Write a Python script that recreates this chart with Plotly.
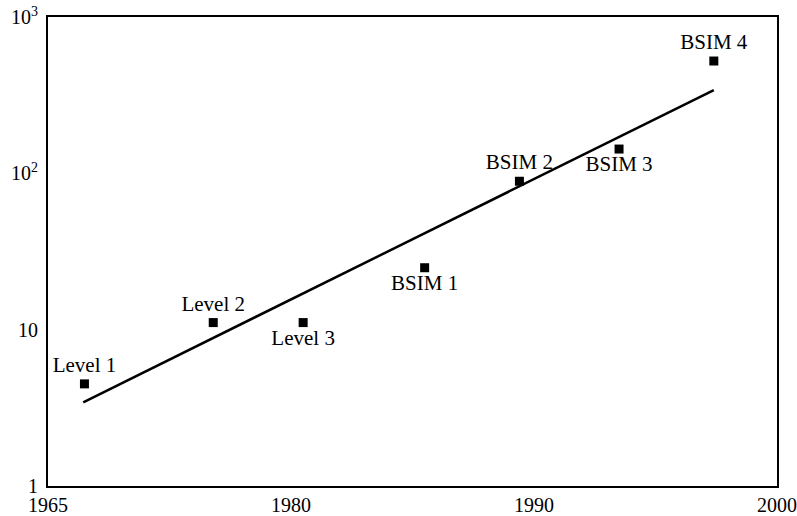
import plotly.graph_objects as go

# Data (x in axis units; axis tick labels as printed on the original figure)
model_names = ["Level 1", "Level 2", "Level 3", "BSIM 1", "BSIM 2", "BSIM 3", "BSIM 4"]
model_years = [1971.5, 1976.8, 1980.5, 1985.5, 1989.4, 1993.5, 1997.4]
model_params = [4.5, 11.1, 11.1, 24.9, 89, 143, 523]
label_pos = ["top center", "top center", "bottom center", "bottom center",
             "top center", "bottom center", "top center"]

trend_years = [1971.45, 1997.4]
trend_params = [3.43, 341]

x_tickvals = [1970, 1980, 1990, 2000]
x_ticktext = ["1965", "1980", "1990", "2000"]
y_tickvals = [1, 10, 100, 1000]
y_ticktext = ["1", "10", "10<sup>2</sup>", "10<sup>3</sup>"]

FONT = "Liberation Serif, Times New Roman, serif"

fig = go.Figure()
fig.add_trace(go.Scatter(
    x=trend_years, y=trend_params, mode="lines",
    line=dict(color="black", width=2.5), showlegend=False, hoverinfo="skip"))
fig.add_trace(go.Scatter(
    x=model_years, y=model_params, mode="markers+text",
    text=model_names, textposition=label_pos,
    textfont=dict(family=FONT, size=21, color="black"),
    marker=dict(symbol="square", size=9, color="black"),
    showlegend=False))

fig.update_layout(
    width=797, height=516,
    margin=dict(l=48, r=20, t=17, b=30),
    paper_bgcolor="white", plot_bgcolor="white",
    font=dict(family=FONT, size=20, color="black"),
)
fig.update_xaxes(
    range=[1970, 2000], tickvals=x_tickvals, ticktext=x_ticktext,
    showgrid=False, zeroline=False, showline=True, linecolor="black",
    linewidth=2, mirror=True, ticks="", tickfont=dict(family=FONT, size=20),
    automargin=False, ticklabelstandoff=0,
)
fig.update_yaxes(
    type="log", range=[0, 3], tickvals=y_tickvals, ticktext=y_ticktext,
    showgrid=False, zeroline=False, showline=True, linecolor="black",
    linewidth=2, mirror=True, ticks="", tickfont=dict(family=FONT, size=20),
    automargin=False, ticklabelstandoff=4,
)

fig.write_html("out.html")
